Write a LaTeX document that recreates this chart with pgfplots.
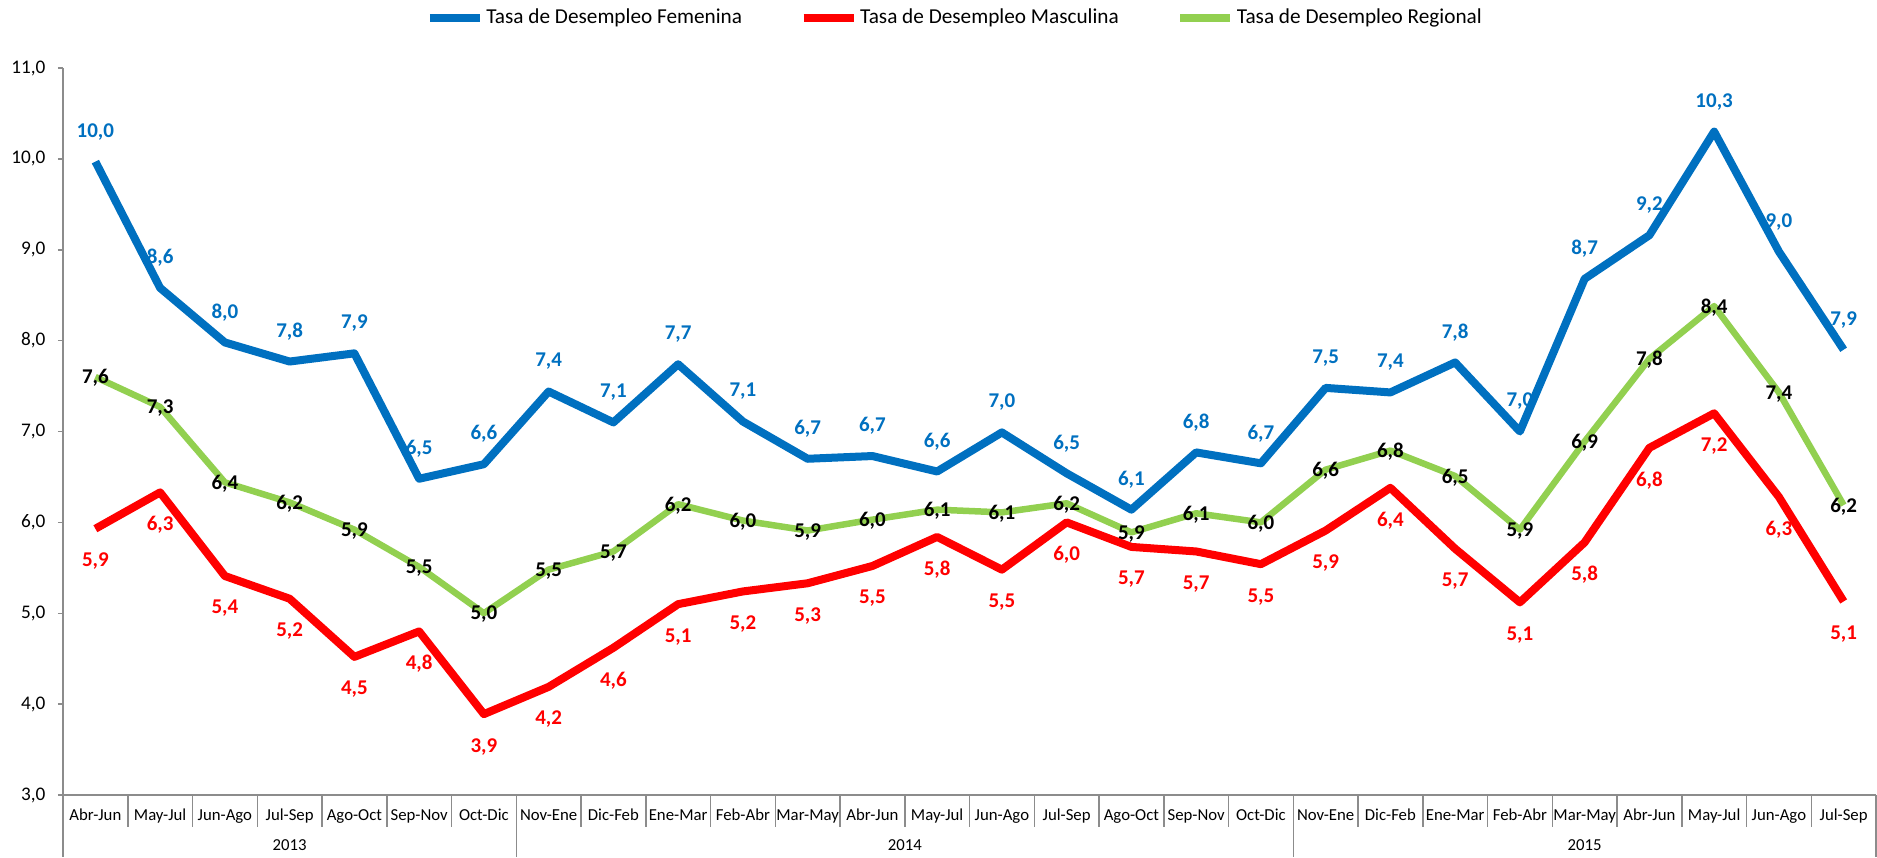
\documentclass[border=0pt]{standalone}
\usepackage{pgfplots}
\pgfplotsset{compat=1.18}
\usepackage{pgfplotstable}
\usepackage{fontspec}
\setmainfont{Carlito}
\definecolor{fem}{HTML}{0070C0}
\definecolor{mas}{HTML}{FF0000}
\definecolor{reg}{HTML}{92D050}
\definecolor{axg}{HTML}{8C8C8C}
\pgfkeys{/pgf/number format/.cd, use comma, fixed, fixed zerofill, precision=1, assume math mode=true}

\pgfplotstableread{
x fem mas reg
0 9.97 5.93 7.60
1 8.58 6.33 7.27
2 7.98 5.41 6.44
3 7.77 5.16 6.22
4 7.86 4.52 5.92
5 6.48 4.80 5.51
6 6.64 3.89 5.00
7 7.44 4.19 5.48
8 7.10 4.62 5.68
9 7.74 5.10 6.20
10 7.11 5.24 6.02
11 6.70 5.33 5.91
12 6.73 5.52 6.03
13 6.56 5.84 6.14
14 6.99 5.48 6.11
15 6.54 6.00 6.21
16 6.14 5.73 5.89
17 6.77 5.68 6.10
18 6.65 5.54 6.00
19 7.48 5.91 6.58
20 7.43 6.38 6.79
21 7.76 5.71 6.51
22 7.00 5.12 5.92
23 8.68 5.78 6.89
24 9.16 6.82 7.80
25 10.30 7.20 8.38
26 8.98 6.28 7.43
27 7.90 5.13 6.19
}\data

\begin{document}
\begin{tikzpicture}
\begin{axis}[
  name=ax, scale only axis, width=725.2pt, height=290.8pt,
  xmin=-0.5, xmax=27.5, ymin=3, ymax=11, ytick={3,4,...,11},
  xtick={0,...,27},
  xticklabels={Abr-Jun,May-Jul,Jun-Ago,Jul-Sep,Ago-Oct,Sep-Nov,Oct-Dic,Nov-Ene,Dic-Feb,Ene-Mar,Feb-Abr,Mar-May,Abr-Jun,May-Jul,Jun-Ago,Jul-Sep,Ago-Oct,Sep-Nov,Oct-Dic,Nov-Ene,Dic-Feb,Ene-Mar,Feb-Abr,Mar-May,Abr-Jun,May-Jul,Jun-Ago,Jul-Sep},
  axis lines*=left, axis line style={axg, line width=0.6pt},
  tick align=outside, major tick length=2pt,
  ytick style={axg, line width=0.6pt}, xtick style={draw=none},
  yticklabel style={font=\fontsize{7.7}{8}\selectfont, xshift=-1.5pt},
  xticklabel style={font=\fontsize{6.7}{7}\selectfont, anchor=base, yshift=-8pt},
  clip=false,
  legend columns=3, legend cell align=left,
  legend style={at={(0.492,1)}, anchor=center, yshift=20pt, draw=none, fill=none,
    font=\fontsize{8.5}{10}\selectfont,
    /tikz/every even column/.append style={column sep=22pt},
    nodes={inner sep=1pt}},
  legend image code/.code={\draw[#1, line width=3.2pt, line cap=butt] (0pt,0pt) -- (20pt,0pt);},
]
\addplot[fem, line width=3.2pt, line join=round, mark=none,
  nodes near coords,
  every node near coord/.append style={anchor=center, yshift=12pt, text=fem, font=\fontsize{8.4}{9}\selectfont\bfseries}]
  table[x=x, y=fem] {\data};
\addlegendentry{Tasa de Desempleo Femenina}
\addplot[mas, line width=3.2pt, line join=round, mark=none,
  nodes near coords,
  every node near coord/.append style={anchor=center, yshift=-13pt, text=mas, font=\fontsize{8.4}{9}\selectfont\bfseries}]
  table[x=x, y=mas] {\data};
\addlegendentry{Tasa de Desempleo Masculina}
\addplot[reg, line width=2.6pt, line join=round, mark=none,
  nodes near coords,
  every node near coord/.append style={anchor=center, yshift=-0.5pt, text=black, font=\fontsize{8.4}{9}\selectfont\bfseries}]
  table[x=x, y=reg] {\data};
\addlegendentry{Tasa de Desempleo Regional}
\pgfplotsinvokeforeach{-0.5,0.5,...,27.5}{\draw[axg, line width=0.6pt] (axis cs:#1,3) -- ([yshift=-12.8pt]axis cs:#1,3);}
\pgfplotsinvokeforeach{-0.5,6.5,18.5,27.5}{\draw[axg, line width=0.6pt] (axis cs:#1,3) -- ([yshift=-24.8pt]axis cs:#1,3);}
\node[anchor=base, font=\fontsize{6.7}{7}\selectfont] at ([yshift=-22pt]axis cs:3,3) {2013};
\node[anchor=base, font=\fontsize{6.7}{7}\selectfont] at ([yshift=-22pt]axis cs:12.5,3) {2014};
\node[anchor=base, font=\fontsize{6.7}{7}\selectfont] at ([yshift=-22pt]axis cs:23,3) {2015};
\end{axis}
\pgfresetboundingbox
\path ([xshift=-25.2pt,yshift=-24.8pt]ax.south west) rectangle ([xshift=0.4pt,yshift=27.2pt]ax.north east);
\end{tikzpicture}
\end{document}
